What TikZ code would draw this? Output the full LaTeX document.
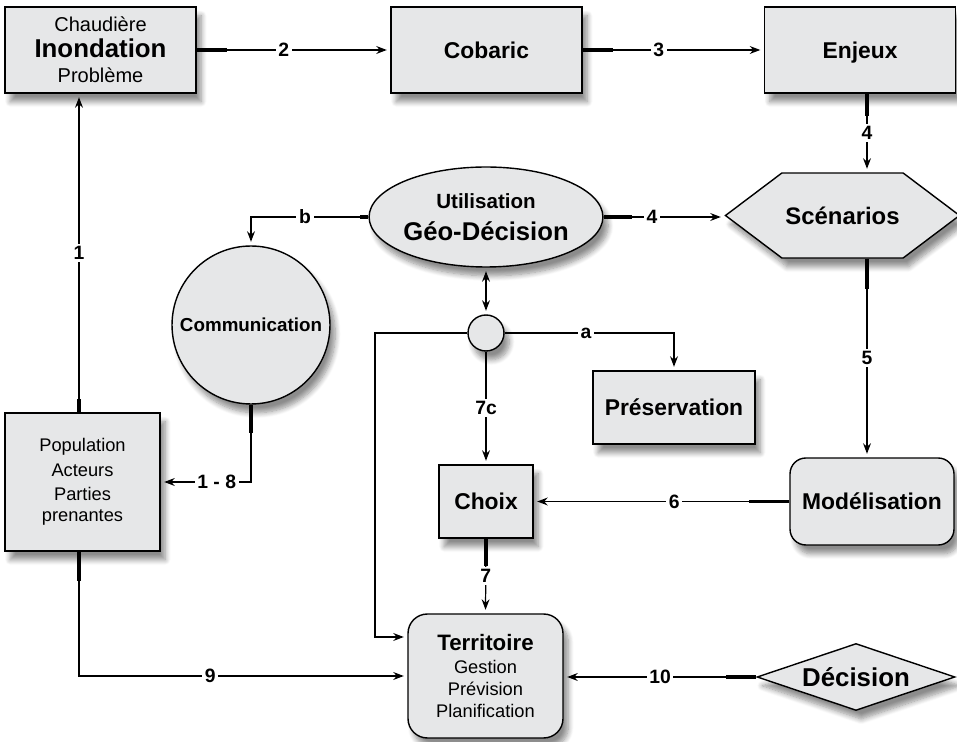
\documentclass[tikz,border=0pt]{standalone}
\usepackage{fontspec}
\setmainfont{Liberation Sans}
\usepackage{tikz}
\usetikzlibrary{arrows.meta,shapes.geometric,shapes.symbols,shadows.blur}
\definecolor{boxfill}{RGB}{230,231,232}
\newcommand{\fontbox}{\fontsize{13}{15}\selectfont\bfseries}
\newcommand{\fontbig}{\fontsize{14.7}{14.5}\selectfont\bfseries}
\newcommand{\fontsmall}{\fontsize{11.4}{14.5}\selectfont}
\newcommand{\fontlist}{\fontsize{10.4}{14}\selectfont}

\tikzset{
  box/.style={draw, line width=0.8pt, fill=boxfill, inner sep=2pt, align=center,
    font=\fontbox, blur shadow={shadow xshift=3pt, shadow yshift=-5pt,
      shadow blur radius=3pt, shadow blur steps=8, shadow opacity=45}},
  lbl/.style={fill=white, inner sep=1.5pt, font=\fontsize{11}{13}\selectfont\bfseries},
  link/.style={line width=0.7pt, -{Stealth[length=6pt,width=4.5pt,inset=2pt]}, shorten >=2pt},
  dlink/.style={line width=0.7pt, {Stealth[length=6pt,width=4.5pt,inset=2pt]}-{Stealth[length=6pt,width=4.5pt,inset=2pt]},
    shorten >=2pt, shorten <=2pt},
  stub/.style={line width=1.8pt}
}

\begin{document}
\begin{tikzpicture}[x=0.02cm,y=-0.02cm]
\useasboundingbox (0,0) rectangle (957,742);

% top row
\node[box, minimum width=3.82cm, minimum height=1.72cm, font=\fontsmall] (inond) at (100.5,50)
  {Chaudière\\{\fontbig Inondation}\\Problème};
\node[box, minimum width=3.82cm, minimum height=1.72cm] (cobaric) at (486.5,50) {Cobaric};
\node[box, minimum width=3.82cm, minimum height=1.72cm, text depth=0pt] (enjeux) at (860,50) {Enjeux};

% middle
\node[box, signal, signal to=west and east, signal pointer angle=74, minimum width=4.5cm,
  minimum height=1.7cm, font=\fontsize{13.6}{15}\selectfont\bfseries] (scen) at (842.5,215.5) {Scénarios};
\node[box, ellipse, minimum width=4.44cm, minimum height=2cm, inner sep=0pt,
  font=\fontsize{11.7}{18}\selectfont\bfseries] (geo) at (486,217)
  {Utilisation\\{\fontsize{14.6}{18}\selectfont Géo-Décision}};
\node[box, circle, minimum size=3.16cm, inner sep=0pt, font=\fontsize{10.7}{13}\selectfont\bfseries] (comm) at (251,325) {Communication};
\node[box, circle, minimum size=0.72cm, inner sep=0pt] (hub) at (486,333) {};
\node[box, minimum width=3.1cm, minimum height=2.76cm, font=\fontlist] (pop) at (82.5,482)
  {Population\\Acteurs\\Parties\\[-2pt]prenantes};
\node[box, minimum width=3.24cm, minimum height=1.46cm] (pres) at (674,407.5) {Préservation};
\node[box, minimum width=1.88cm, minimum height=1.46cm] (choix) at (486,501.5) {Choix};
\node[box, rounded corners=9pt, minimum width=3.28cm, minimum height=1.74cm] (model) at (872,501.5) {Modélisation};

% bottom
\node[box, rounded corners=11pt, minimum width=3.1cm, minimum height=2.48cm,
  font=\fontsize{10.4}{12.5}\selectfont] (terr) at (485.5,676)
  {{\fontsize{12.7}{12.5}\selectfont\bfseries Territoire}\\[1pt]Gestion\\Prévision\\Planification};
\node[box, diamond, aspect=3, minimum width=3.96cm, minimum height=1.34cm, inner sep=0pt,
  font=\fontsize{14.7}{17}\selectfont\bfseries] (dec) at (856,677) {Décision};

\coordinate (c1) at (79,0);
\coordinate (c4) at (867,0);
\coordinate (cl) at (375,0);

% connectors
\draw[link] (pop.north -| c1) -- (inond.south -| c1) node[lbl, midway] {1};
\draw[link] (inond.east) -- (cobaric.west) node[lbl, pos=0.45] {2};
\draw[link] (cobaric.east) -- (enjeux.west) node[lbl, pos=0.42] {3};
\draw[link] (enjeux.south -| c4) -- (scen.north -| c4) node[lbl, midway] {4};
\draw[link] (geo.east) -- (geo.east -| scen.west) node[lbl, pos=0.4] {4};
\draw[link] (geo.west) -| (comm.north) node[lbl, pos=0.27] {b};
\draw[link] (comm.south) |- (pop.east) node[lbl, pos=0.69] {1 - 8};
\draw[dlink] (geo.south) -- (hub.north);
\draw[link] (hub.east) -| (pres.north) node[lbl, pos=0.24] {a};
\draw[link] (hub.south) -- (choix.north) node[lbl, midway] {7c};
\draw[link] (hub.west) -- (hub.west -| cl) |- ([yshift=0.78cm]terr.west);
\draw[link] (scen.south -| c4) -- (model.north -| c4) node[lbl, midway] {5};
\draw[link] (model.west) -- (choix.east) node[lbl, pos=0.45] {6};
\draw[link] (choix.south) -- (terr.north) node[lbl, midway] {7};
\draw[link] (pop.south -| c1) |- (terr.west) node[lbl, pos=0.7] {9};
\draw[link] (dec.west) -- (dec.west -| terr.east) node[lbl, midway] {10};

% thick starts
\foreach \s/\d in {inond.east/{(30,0)}, cobaric.east/{(30,0)}, enjeux.south -| c4/{(0,22)},
  geo.east/{(28,0)}, geo.west/{(-8,0)}, comm.south/{(0,28)}, pop.south -| c1/{(0,29)},
  pop.north -| c1/{(0,-13)}, scen.south -| c4/{(0,30)}, model.west/{(-40,0)},
  choix.south/{(0,27)}, dec.west/{(-30,0)}}
  \draw[stub] (\s) -- ++\d;
\end{tikzpicture}
\end{document}
